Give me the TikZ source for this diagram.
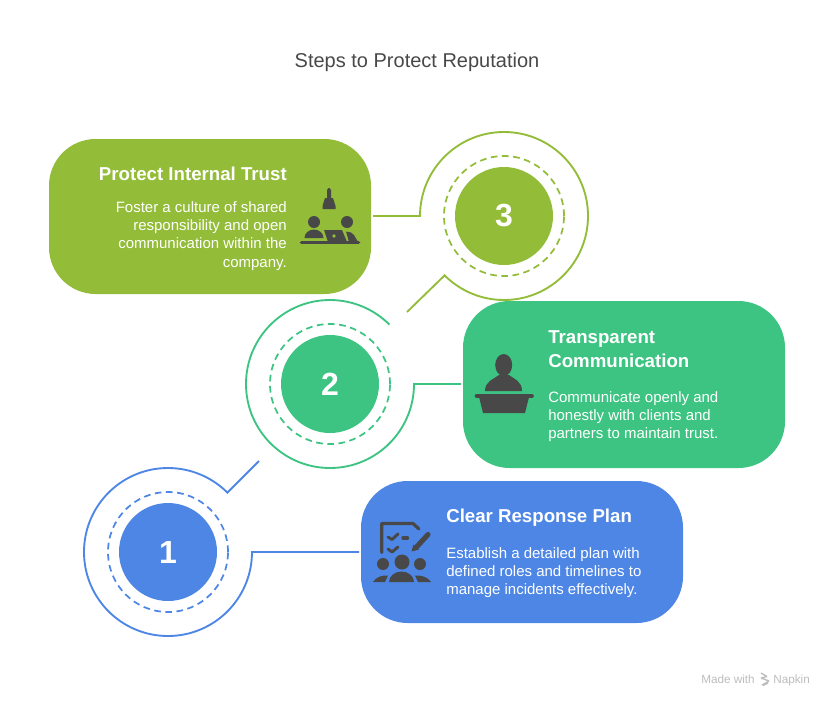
\documentclass[tikz,border=0pt]{standalone}
\usepackage{fontspec}
\setmainfont{Liberation Sans}
\definecolor{olivegreen}{HTML}{93BC38}
\definecolor{seagreen}{HTML}{3DC482}
\definecolor{planblue}{HTML}{4D86E5}
\definecolor{icongray}{HTML}{484848}
\definecolor{marktext}{HTML}{BDBDBD}
\tikzset{
  card/.style={inner sep=0pt,outer sep=0pt,minimum width=241.5pt,rounded corners=35pt,fill=#1},
  numdisc/.style={circle,inner sep=0pt,outer sep=0pt,minimum size=73.5pt,fill=#1,text=white,font=\fontsize{24}{24}\selectfont\bfseries},
  dashring/.style={#1,line width=1.3pt,dash pattern=on 5pt off 3.4pt},
  ring/.style={#1,line width=1.4pt,line join=miter},
  headline/.style={inner sep=0pt,text=white,font=\fontsize{14}{18}\selectfont\bfseries},
  bodytext/.style={inner sep=0pt,text=white,font=\fontsize{11.25}{13.6}\selectfont},
}
\begin{document}
\begin{tikzpicture}[x=0.75pt,y=0.75pt]
  \useasboundingbox(0,0)rectangle(834,-707);
  \node[inner sep=0pt,text=icongray,font=\fontsize{15}{15}\selectfont](heading)at(417,-62.5){Steps to Protect Reputation};
  %cards
  \node[card=olivegreen,minimum height=116.25pt](trustcard)at(210,-216.5){};
  \node[card=seagreen,minimum height=125.25pt](talkcard)at(624,-384.5){};
  \node[card=planblue,minimum height=106.5pt](plancard)at(522,-552){};
  %discs
  \node[numdisc=olivegreen](disc3)at(504,-216){3};
  \node[numdisc=seagreen](disc2)at(330,-384){2};
  \node[numdisc=planblue](disc1)at(168,-552){1};
  \draw[dashring=olivegreen](disc3.center)circle[radius=60];
  \draw[dashring=seagreen](disc2.center)circle[radius=60];
  \draw[dashring=planblue](disc1.center)circle[radius=60];
  %rings
  \coordinate(tail3)at(420,-216);
  \coordinate(tail2)at(414,-384);
  \coordinate(tail1)at(252,-552);
  \coordinate(tip3)at(407,-312);
  \coordinate(tip1)at(259,-461);
  \draw[ring=olivegreen,shorten <=1.5pt](trustcard.east|-tail3)--(tail3)arc[start angle=180,end angle=-135,radius=84]--(tip3);
  \draw[ring=seagreen,shorten <=1.5pt](talkcard.west|-tail2)--(tail2)arc[start angle=0,end angle=-315,radius=84];
  \draw[ring=planblue,shorten <=1.5pt](plancard.west|-tail1)--(tail1)arc[start angle=0,end angle=-315,radius=84]--(tip1);
  %texts
  \node[headline,anchor=base east](trusthead)at(287,-180.5){Protect Internal Trust};
  \node[bodytext,anchor=north east,align=right](trustbody)at(287,-201.5){Foster a culture of shared\\responsibility and open\\communication within the\\company.};
  \node[headline,anchor=north west,align=left](talkhead)at(548,-330.5){Transparent\\Communication};
  \node[bodytext,anchor=north west,align=left](talkbody)at(548,-391){Communicate openly and\\honestly with clients and\\partners to maintain trust.};
  \node[headline,anchor=base west](planhead)at(446,-522.5){Clear Response Plan};
  \node[bodytext,anchor=north west,align=left](planbody)at(446,-547){Establish a detailed plan with\\defined roles and timelines to\\manage incidents effectively.};
  %icon of card 3
  \fill[icongray](327,-190)--(328.5,-188)--(329.5,-188)--(331,-190)--(331,-198)--(333,-198)--(335.5,-206)--(335.5,-209)--(322.5,-209)--(322.5,-206)--(325,-198)--(327,-198)--cycle;
  \fill[icongray](314,-222)circle[radius=6](347,-222)circle[radius=6];
  \fill[icongray](304.5,-238)arc[start angle=180,end angle=0,x radius=9.5,y radius=8.5]--cycle;
  \fill[icongray](324,-230)--(342,-230)--(347,-242)--(328,-242)--cycle;
  \fill[olivegreen](334,-236)circle[radius=1.9];
  \fill[icongray](346,-231.5)--(351,-232.5)--(354,-235)--(358,-242)--(349,-242)--cycle;
  \draw[icongray,line width=2.7pt,line cap=round](301.5,-242.5)--(358.5,-242.5);
  %icon of card 2
  \fill[icongray](503.7,-365)ellipse[x radius=8.5,y radius=11];
  \fill[icongray](485,-391)..controls(485,-381)and(494,-379)..(499,-375)--(509,-375)..controls(514,-379)and(522,-381)..(522,-391)--cycle;
  \draw[icongray,line width=2.7pt,line cap=round](476.5,-396)--(532,-396);
  \fill[icongray](479,-397)--(483,-413)--(525,-413)--(529,-397)--cycle;
  %icon of card 1
  \draw[icongray,line width=2.4pt,line cap=round,line join=round](381.7,-552.5)--(381.7,-523.5)--(413,-523.5)--(419,-529);
  \draw[icongray,line width=2.2pt,line cap=round,line join=round](388,-537)--(392,-539.5)--(398,-534)(388,-549)--(392,-552)--(398,-547);
  \draw[icongray,line width=2.4pt,line cap=round](403,-538)--(407.5,-538);
  \draw[icongray,line width=3.8pt,line cap=round](428,-534.5)--(417,-546.5);
  \fill[icongray](411.5,-551.5)--(413.5,-544.5)--(419,-549.5)--cycle;
  \fill[icongray](383,-564)circle[radius=6](402,-562)circle[radius=7.5](420,-564)circle[radius=6];
  \fill[icongray](389,-582)arc[start angle=180,end angle=0,x radius=12.5,y radius=10.5]--cycle;
  \fill[icongray](373,-582)..controls(376,-577)and(382,-575)..(388,-575.5)--(385,-582)--cycle;
  \fill[icongray](431,-582)..controls(428,-577)and(421,-575)..(415,-575.5)--(418,-582)--cycle;
  %watermark
  \node[inner sep=0pt,anchor=base west,text=marktext,font=\fontsize{8.8}{8}\selectfont](madewith)at(701,-683){Made with};
  \node[inner sep=0pt,anchor=base west,text=marktext,font=\fontsize{8.8}{8}\selectfont](napkin)at(773,-683){Napkin};
  \draw[marktext,line width=1pt](761,-673)--(767,-676.5)(761,-678)--(769,-681)(762,-685)--(769,-681)(761,-678)--(767,-676.5)(763,-685.5)--(768,-683);
\end{tikzpicture}
\end{document}
